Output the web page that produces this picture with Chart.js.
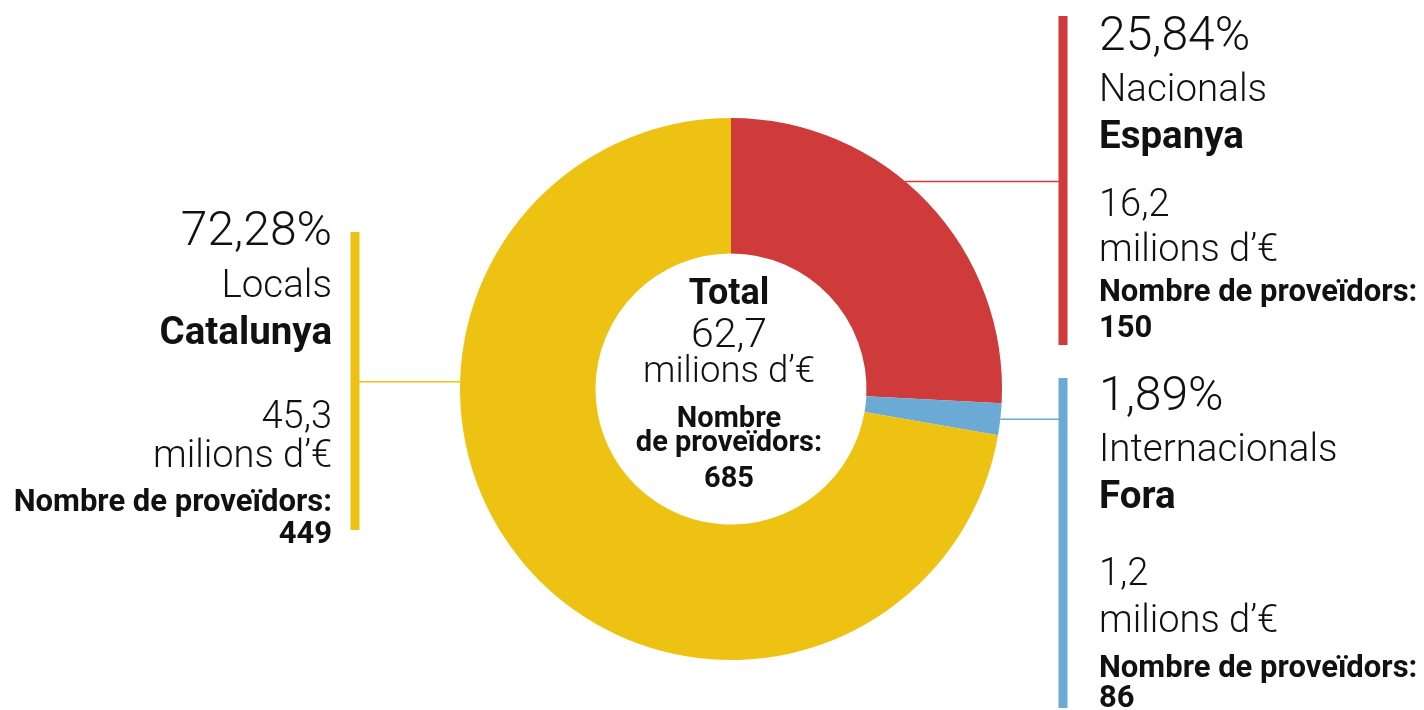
<!DOCTYPE html>
<html>
<head>
<meta charset="utf-8">
<script src="https://cdn.jsdelivr.net/npm/chart.js@4/dist/chart.umd.min.js"></script>
<style>
  html, body { margin: 0; padding: 0; background: #fff; }
  canvas { display: block; }
</style>
</head>
<body>
<canvas id="chart" width="1424" height="710"></canvas>
<script>
// data, in drawing order (clockwise from the top)
var scopes = ['Nacionals', 'Internacionals', 'Locals'];
var regions = ['Espanya', 'Fora', 'Catalunya'];
var percents = [25.84, 1.89, 72.28];
var amounts = [16.2, 1.2, 45.3];       // milions d'€
var providers = [150, 86, 449];
var totalAmount = 62.7;
var totalProviders = 685;
var colors = ['#cf3b3b', '#6baad5', '#eec212'];

function fmt(v, d) {
    return v.toFixed(d).replace('.', ',');
}

// where each callout sits (layout only)
var callouts = [
    { align: 'left', x: 1099, barX: 1063, barTop: 16, barBottom: 345, at: 0.43,
      lines: [50, 100.7, 147.7, 216, 260.7, 301, 336.7] },
    { align: 'left', x: 1099, barX: 1063, barTop: 378, barBottom: 708, at: 0.5,
      lines: [410, 460.7, 507.7, 585, 631.7, 676.7, 707] },
    { align: 'right', x: 332, barX: 355, barTop: 232, barBottom: 530, at: 0.66,
      lines: [245, 297.3, 344, 428.3, 467, 511, 543.3] }
];
var lineFonts = ['300 48px Roboto', '300 38.5px Roboto', 'bold 38.5px Roboto',
    '300 38px Roboto', '300 38px Roboto', 'bold 31px Roboto', 'bold 31px Roboto'];

var calloutPlugin = {
    id: 'callouts',
    afterDraw: function(chart) {
        var ctx = chart.ctx;
        var arcs = chart.getDatasetMeta(0).data;
        ctx.save();
        arcs.forEach(function(arc, i) {
            var c = callouts[i];
            var a = arc.startAngle + (arc.endAngle - arc.startAngle) * c.at;
            var px = arc.x + arc.outerRadius * Math.cos(a);
            var py = arc.y + arc.outerRadius * Math.sin(a);

            // connector
            ctx.strokeStyle = colors[i];
            ctx.lineWidth = 1.5;
            ctx.beginPath();
            ctx.moveTo(px, py);
            ctx.lineTo(c.barX, py);
            ctx.stroke();

            // bar
            ctx.fillStyle = colors[i];
            ctx.fillRect(c.barX - 4.5, c.barTop, 9, c.barBottom - c.barTop);

            // text
            var texts = [fmt(percents[i], 2) + '%', scopes[i], regions[i],
                fmt(amounts[i], 1), 'milions d\u2019\u20ac',
                'Nombre de prove\u00efdors:', String(providers[i])];
            ctx.fillStyle = '#111';
            ctx.textAlign = c.align;
            ctx.textBaseline = 'alphabetic';
            texts.forEach(function(t, k) {
                ctx.font = lineFonts[k];
                ctx.fillText(t, c.x, c.lines[k]);
            });
        });

        // centre
        var cx = arcs[0].x - 2;
        var centre = [
            ['bold 36px Roboto', 'Total', 304],
            ['300 41px Roboto', fmt(totalAmount, 1), 347.3],
            ['300 36.5px Roboto', 'milions d\u2019\u20ac', 381.7],
            ['bold 29px Roboto', 'Nombre', 426.7],
            ['bold 29px Roboto', 'de prove\u00efdors:', 451],
            ['bold 29px Roboto', String(totalProviders), 487]
        ];
        ctx.textAlign = 'center';
        ctx.fillStyle = '#111';
        centre.forEach(function(r) {
            ctx.font = r[0];
            ctx.fillText(r[1], cx, r[2]);
        });
        ctx.restore();
    }
};

var ctx = document.getElementById('chart').getContext('2d');
var chart = new Chart(ctx, {
    type: 'doughnut',
    data: {
        labels: scopes,
        datasets: [{
            data: percents,
            backgroundColor: colors,
            borderWidth: 0
        }]
    },
    options: {
        responsive: false,
        animation: false,
        cutout: '50%',
        layout: { padding: { left: 460, right: 422, top: 118, bottom: 50 } },
        plugins: {
            legend: { display: false },
            tooltip: { enabled: false }
        }
    },
    plugins: [calloutPlugin]
});
</script>
</body>
</html>
